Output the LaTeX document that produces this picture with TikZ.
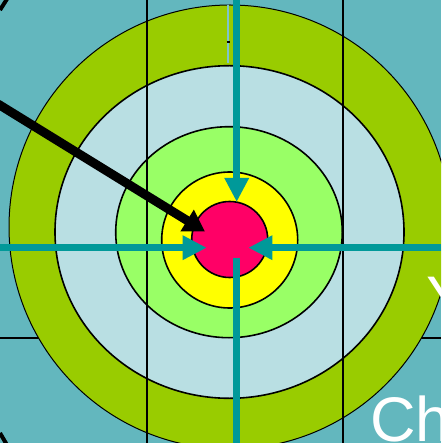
\documentclass[tikz,border=0pt]{standalone}
\usepackage{fontspec}
\setmainfont{Liberation Sans}
\usetikzlibrary{arrows.meta}
\definecolor{bg}{HTML}{63B7BE}
\definecolor{ringgreen}{HTML}{99CC00}
\definecolor{paleblue}{HTML}{B9DFE3}
\definecolor{lightgreen}{HTML}{99FF66}
\definecolor{bullyellow}{HTML}{FFFF00}
\definecolor{bullred}{HTML}{FF0066}
\definecolor{tealarrow}{HTML}{009999}
\definecolor{thinline}{HTML}{80C4CB}
\tikzset{
  ring/.style={draw=black, line width=1.6pt},
  gridline/.style={draw=black, line width=1.8pt},
  tealshaft/.style={draw=tealarrow, line width=7.5pt},
  tealarr/.style={tealshaft, -{Triangle[length=24pt,width=23pt]}},
  blackarr/.style={draw=black, line width=9pt, -{Triangle[length=21pt,width=24pt]}},
  bigtext/.style={text=white, font=\fontsize{63}{70}\selectfont, inner sep=0pt, anchor=base west}
}
\begin{document}
\begin{tikzpicture}[x=1pt,y=-1pt]
\useasboundingbox (0,0) rectangle (441,443);
\begin{scope}
\clip (0,0) rectangle (441,443);
\fill[bg] (0,0) rectangle (441,443);
% horizontal grid line (behind the target)
\draw[gridline] (0,338) -- (441,338);
% target rings
\draw[fill=ringgreen, draw=black, line width=1pt] (230,227) ellipse [x radius=221, y radius=222];
\draw[ring, fill=paleblue] (229.5,232) ellipse [x radius=174.5, y radius=166.3];
\draw[ring, fill=lightgreen] (229,232.2) ellipse [x radius=113.3, y radius=105.5];
\draw[ring, fill=bullyellow] (229.7,240) circle [radius=68];
\draw[ring, fill=bullred] (229.7,239.5) circle [radius=38];
% vertical grid lines
\draw[gridline] (147,0) -- (147,443);
\draw[gridline] (343,0) -- (343,443);
% thin mark at top
\draw[thinline, line width=2pt] (228,5) -- (228,63);
\draw[black, line width=2pt] (226.5,42) -- (229.5,42);
% corner fragments
\draw[black, line width=4pt] (0,10) -- (7,-1);
\draw[black, line width=4pt] (0,433) -- (7,445);
% teal arrows
\coordinate (topstart) at (236.7,0);
\coordinate (toptip) at (236.7,202);
\coordinate (leftstart) at (0,247.7);
\coordinate (lefttip) at (206.7,247.7);
\coordinate (rightstart) at (441,247.7);
\coordinate (righttip) at (248.3,247.7);
\coordinate (botstart) at (236.7,258);
\coordinate (botend) at (236.7,443);
\draw[tealarr] (topstart) -- (toptip);
\draw[tealarr] (leftstart) -- (lefttip);
\draw[tealarr] (rightstart) -- (righttip);
\draw[tealshaft] (botstart) -- (botend);
% black arrow
\coordinate (blackstart) at (-2,104);
\coordinate (blacktip) at (205,231.5);
\draw[blackarr] (blackstart) -- (blacktip);
% texts
\node[bigtext] (ytext) at (426.5,320) {Y};
\node[bigtext] (chtext) at (370,441) {Ch};
\end{scope}
\end{tikzpicture}
\end{document}
